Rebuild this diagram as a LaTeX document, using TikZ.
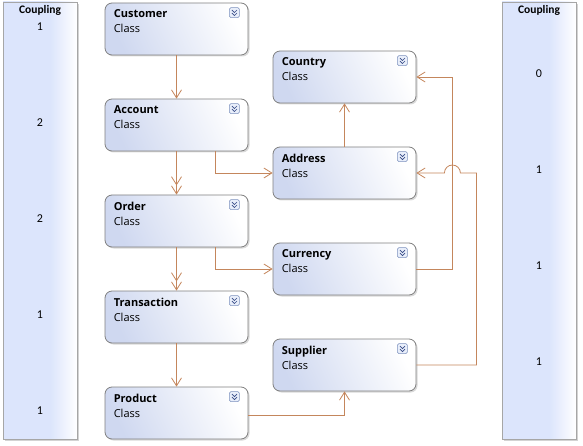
\documentclass[tikz,border=0pt]{standalone}
\usepackage{fontspec}
\setsansfont{Open Sans}
\newfontfamily\calfont{Carlito}
\usetikzlibrary{arrows.meta,calc,shadows}
\definecolor{boxblue}{RGB}{207,216,240}
\definecolor{colblue}{RGB}{220,229,252}
\definecolor{boxline}{RGB}{128,128,128}
\definecolor{linkbrown}{RGB}{196,134,92}
\definecolor{iconline}{RGB}{125,145,190}
\definecolor{iconfill}{RGB}{232,238,250}
\definecolor{icondark}{RGB}{55,75,135}
\pgfdeclarehorizontalshading{colshade}{100bp}{color(0bp)=(colblue); color(57bp)=(colblue); color(75bp)=(white); color(100bp)=(white)}

\tikzset{
  classbox/.style={draw=boxline, line width=.8pt, rounded corners=7pt,
    minimum width=143pt, minimum height=52pt,
    left color=boxblue, right color=white, shading angle=115,
    drop shadow={shadow xshift=1.5pt, shadow yshift=-1.5pt, opacity=.3}},
  classname/.style={anchor=north west, inner sep=0pt, align=left,
    font=\sffamily\fontsize{11}{15}\selectfont},
  icon/.style={draw=iconline, fill=iconfill, rounded corners=1.5pt,
    minimum size=10pt, inner sep=0pt, line width=.6pt},
  coupling/.style={draw=black!35, line width=.8pt, minimum width=74pt,
    minimum height=437pt, shade, shading=colshade,
    drop shadow={shadow xshift=2pt, shadow yshift=-2pt, opacity=.35}},
  couphead/.style={inner sep=0pt, font=\calfont\bfseries\fontsize{11.5}{13}\selectfont},
  coupnum/.style={inner sep=0pt, font=\calfont\fontsize{12}{14}\selectfont},
  conn/.style={draw=linkbrown, line width=.8pt, -{Straight Barb[length=8pt,width=10pt]}},
  conn2/.style={conn, -{Straight Barb[length=8pt,width=10pt] Straight Barb[length=8pt,width=10pt]}}
}

\begin{document}
\begin{tikzpicture}[x=1pt,y=-1pt]
\useasboundingbox (0,0) rectangle (583,446);

% coupling columns
\node [coupling] (lcol) at (40,220.5) {};
\node [coupling] (rcol) at (539,220.5) {};
\node [couphead] (lhead) at ($(lcol.north)+(0,9)$) {Coupling};
\node [couphead] (rhead) at ($(rcol.north)+(0,9)$) {Coupling};

% classes
\node [classbox] (customer)    at (176.5,29)  {};
\node [classbox] (account)     at (176.5,125) {};
\node [classbox] (order)       at (176.5,221) {};
\node [classbox] (transaction) at (176.5,317) {};
\node [classbox] (product)     at (176.5,413) {};
\node [classbox] (country)     at (344.5,77)  {};
\node [classbox] (address)     at (344.5,173) {};
\node [classbox] (currency)    at (344.5,269) {};
\node [classbox] (supplier)    at (344.5,365) {};

\node [classname] (customer-t)    at ($(customer.north west)+(9,7)$)    {\textbf{Customer}\\Class};
\node [classname] (account-t)     at ($(account.north west)+(9,7)$)     {\textbf{Account}\\Class};
\node [classname] (order-t)       at ($(order.north west)+(9,7)$)       {\textbf{Order}\\Class};
\node [classname] (transaction-t) at ($(transaction.north west)+(9,7)$) {\textbf{Transaction}\\Class};
\node [classname] (product-t)     at ($(product.north west)+(9,7)$)     {\textbf{Product}\\Class};
\node [classname] (country-t)     at ($(country.north west)+(9,7)$)     {\textbf{Country}\\Class};
\node [classname] (address-t)     at ($(address.north west)+(9,7)$)     {\textbf{Address}\\Class};
\node [classname] (currency-t)    at ($(currency.north west)+(9,7)$)    {\textbf{Currency}\\Class};
\node [classname] (supplier-t)    at ($(supplier.north west)+(9,7)$)    {\textbf{Supplier}\\Class};

% expand icons
\foreach \n in {customer,account,order,transaction,product,country,address,currency,supplier} {
  \node [icon] (\n-i) at ($(\n.north east)+(-14,10)$) {};
  \draw [icondark, line width=.7pt] ($(\n-i)+(-2.5,-2.5)$) -- ($(\n-i)+(0,0)$) -- ($(\n-i)+(2.5,-2.5)$);
  \draw [icondark, line width=.7pt] ($(\n-i)+(-2.5,0.5)$) -- ($(\n-i)+(0,3)$) -- ($(\n-i)+(2.5,0.5)$);
}

% coupling values
\node [coupnum] (l1) at ($(lcol |- customer)+(0,-2)$)    {1};
\node [coupnum] (l2) at ($(lcol |- account)+(0,-2)$)     {2};
\node [coupnum] (l3) at ($(lcol |- order)+(0,-2)$)       {2};
\node [coupnum] (l4) at ($(lcol |- transaction)+(0,-2)$) {1};
\node [coupnum] (l5) at ($(lcol |- product)+(0,-2)$)     {1};
\node [coupnum] (r1) at ($(rcol |- country)+(0,-3)$)     {0};
\node [coupnum] (r2) at ($(rcol |- address)+(0,-3)$)     {1};
\node [coupnum] (r3) at ($(rcol |- currency)+(0,-3)$)    {1};
\node [coupnum] (r4) at ($(rcol |- supplier)+(0,-3)$)    {1};

% associations
\draw [conn]  (customer) -- (account);
\draw [conn2] (account) -- (order);
\draw [conn2] (order) -- (transaction);
\draw [conn]  (transaction) -- (product);
\draw [conn]  ([xshift=39pt]account.south) |- (address.west);
\draw [conn]  ([xshift=39pt]order.south) |- (currency.west);
\draw [conn]  (address) -- (country);
\draw [conn]  ([yshift=-2pt]product.east) -| (supplier.south);
\draw [conn]  (currency.east) -| ([xshift=36pt]country.east) -- (country.east);
\draw [conn]  (supplier.east) -| ([xshift=60pt]address.east) -- ([xshift=44pt]address.east)
  arc [start angle=0, end angle=180, radius=8pt] -- (address.east);
\end{tikzpicture}
\end{document}
